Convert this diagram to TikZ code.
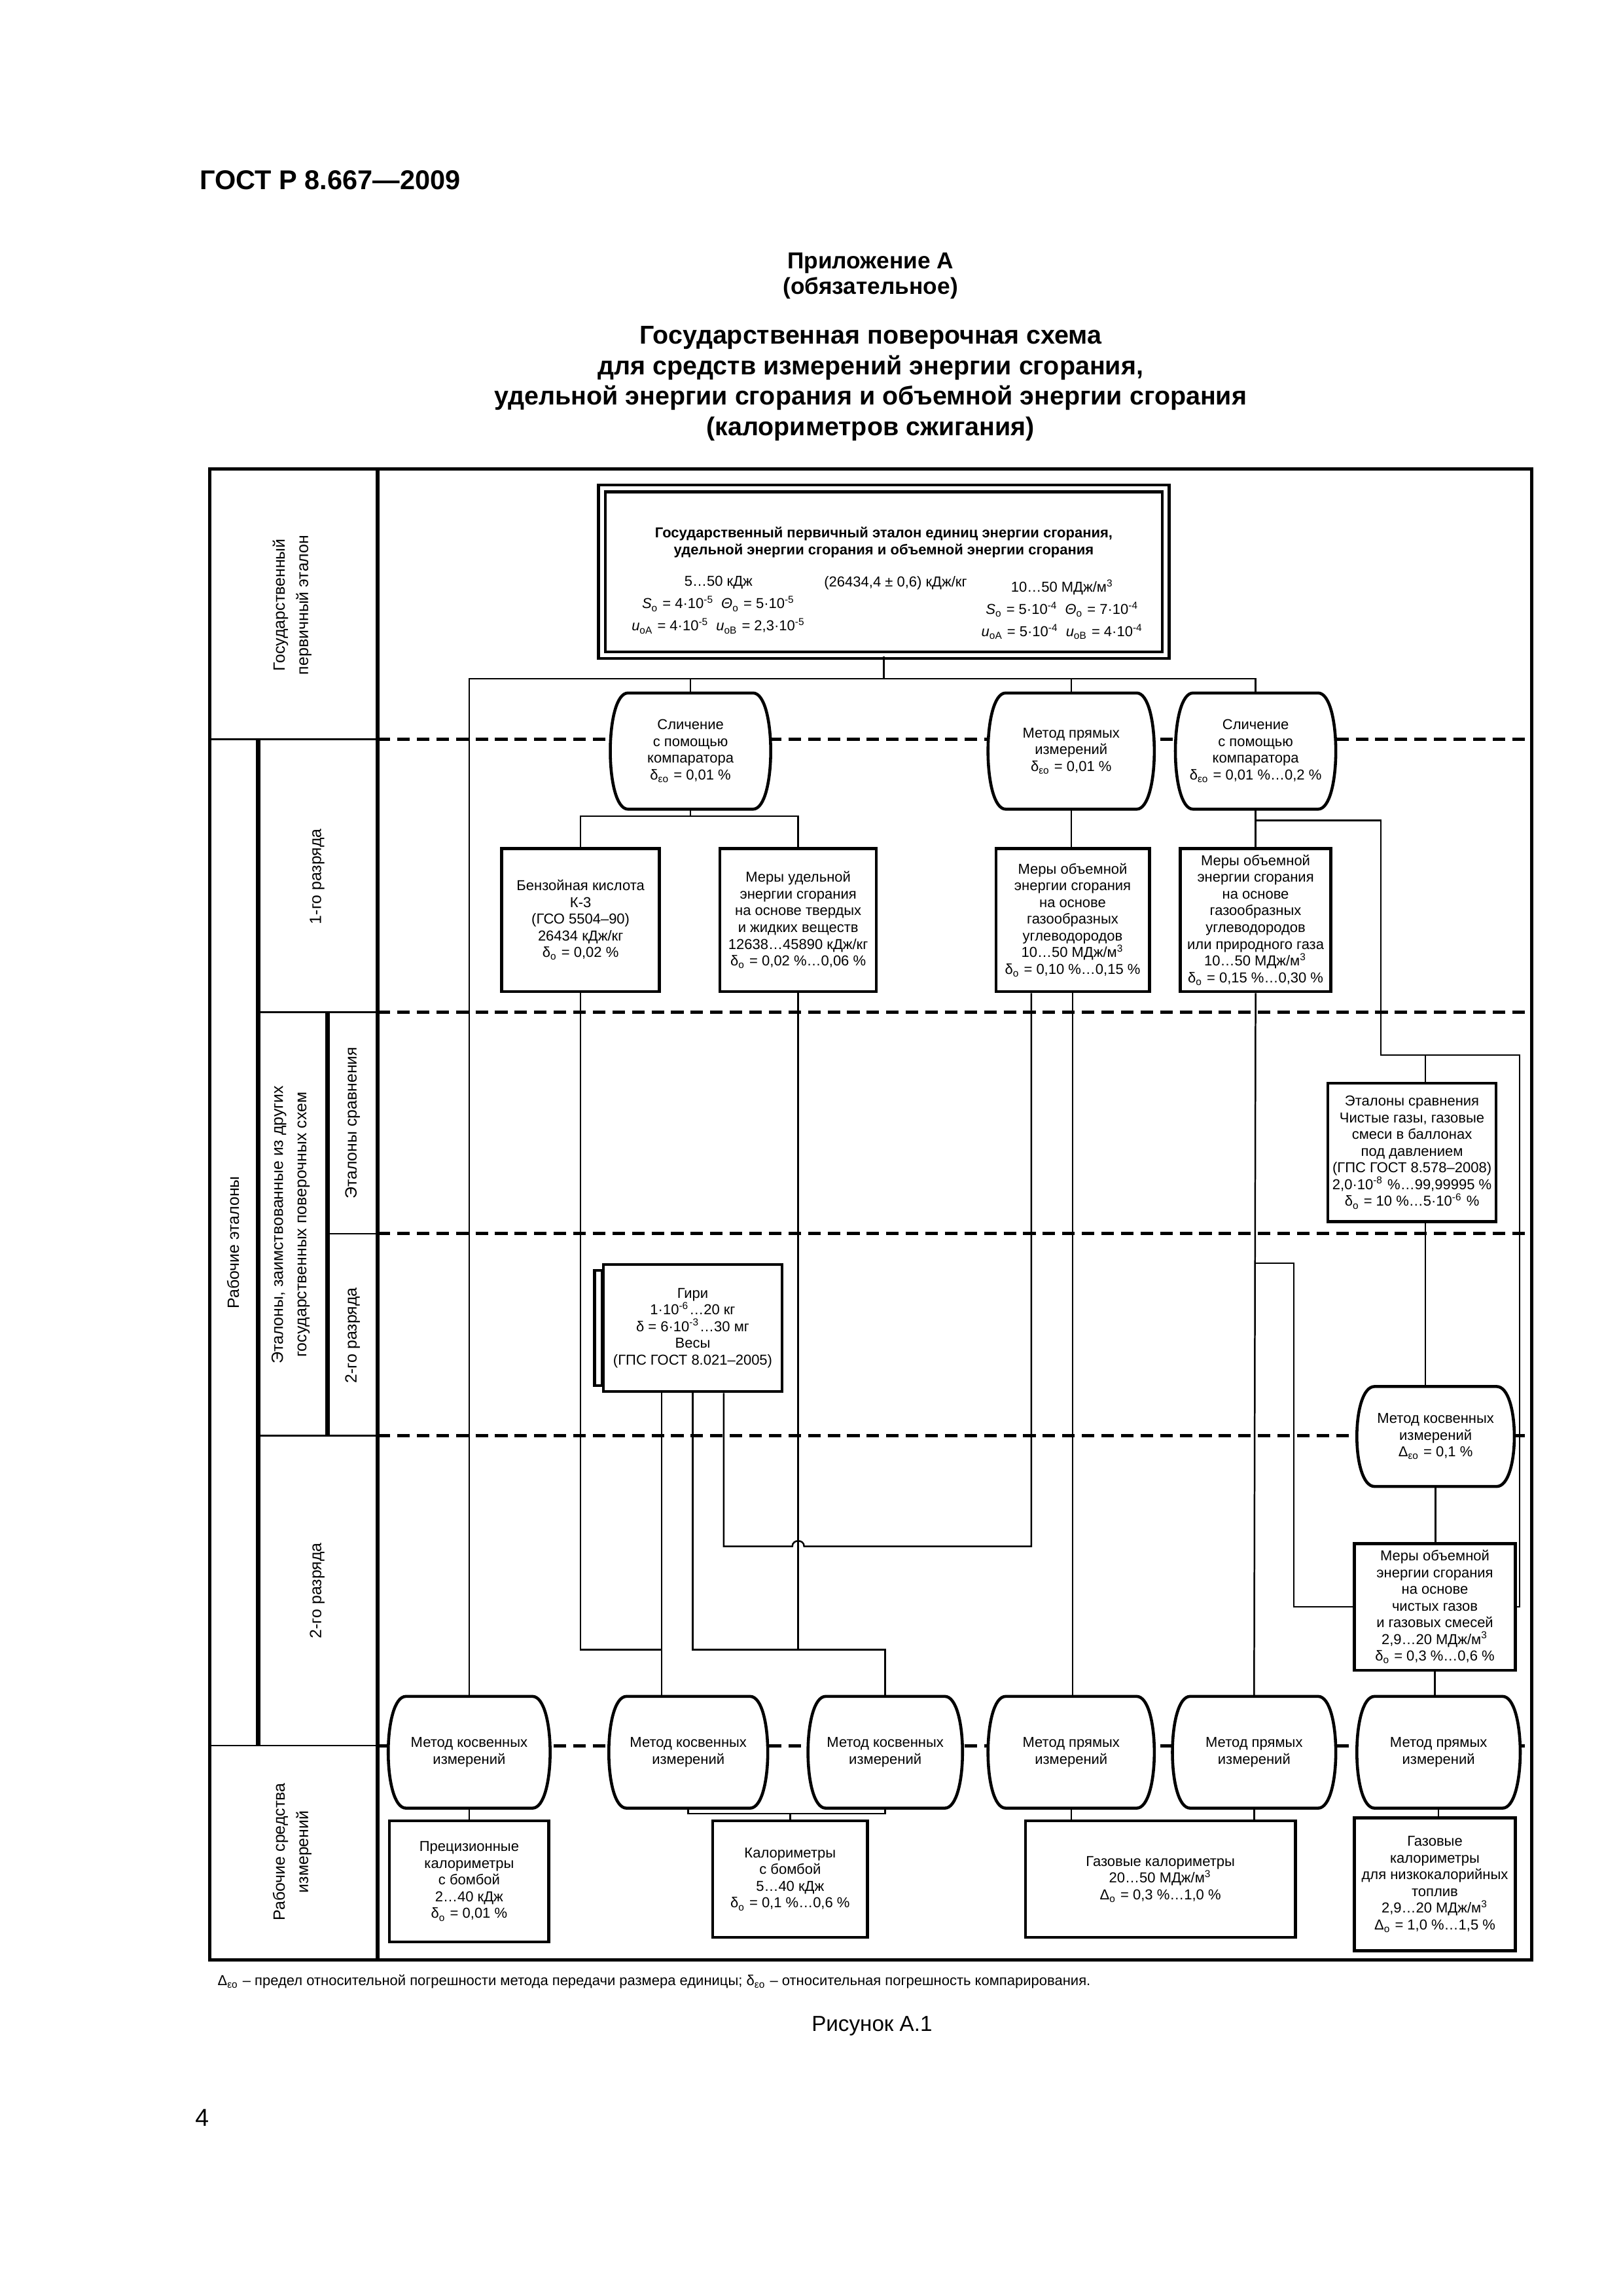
\documentclass[tikz,border=0pt]{standalone}
\usepackage{fontspec}
\setmainfont{Liberation Sans}
\usetikzlibrary{calc}

\newcommand\boxfont{\fontsize{5.3}{6.15}\selectfont}
\newcommand\datafont{\fontsize{5.3}{8.2}\selectfont}
\newcommand\sidefont{\fontsize{6}{8.6}\selectfont}
\newcommand\seo{\textsubscript{εо}}
\newcommand\subo{\textsubscript{о}}
\newcommand\pw[1]{\textsuperscript{#1}}

% outline of a method node: straight top and bottom, bulging sides
\newcommand\barrel[1]{%
  \draw[outline] ($(#1.north west)+(12,0)$) -- ($(#1.north east)+(-12,0)$)
    .. controls ($(#1.north east)+(4,0)$) and ($(#1.south east)+(4,0)$)
    .. ($(#1.south east)+(-12,0)$) -- ($(#1.south west)+(12,0)$)
    .. controls ($(#1.south west)+(-4,0)$) and ($(#1.north west)+(-4,0)$)
    .. cycle;}

\tikzset{
  sized/.style 2 args={minimum width=#1*0.01909cm, minimum height=#2*0.01909cm},
  stdbox/.style={draw, line width=1.1pt, fill=white, align=center,
    font=\boxfont, inner sep=0pt},
  method/.style={fill=white, align=center, font=\boxfont, inner sep=0pt},
  outline/.style={line width=1.1pt},
  link/.style={line width=0.6pt},
  levelline/.style={line width=1.2pt, dash pattern=on 4.6pt off 2.6pt},
  thinrule/.style={line width=0.6pt},
  heavyrule/.style={line width=1.6pt},
  sidelabel/.style={rotate=90, align=center, font=\sidefont},
}

\begin{document}
\begin{tikzpicture}[x=0.01909cm, y=-0.01909cm]
	\useasboundingbox (0,0) rectangle (1100,1556);

	% page head
	\node[font=\bfseries\fontsize{10}{12}\selectfont, anchor=west] (gost) at (129,122) {ГОСТ Р 8.667—2009};
	\node[font=\bfseries\fontsize{8.5}{9.3}\selectfont, align=center] (annex) at (590,187) {Приложение А\\(обязательное)};
	\node[font=\bfseries\fontsize{9.5}{11.2}\selectfont, align=center] (title) at (590,260)
		{Государственная поверочная схема\\для средств измерений энергии сгорания,\\удельной энергии сгорания и объемной энергии сгорания\\(калориметров сжигания)};

	% frame and the column of levels
	\draw[line width=1.2pt] (142,318) rectangle (1038,1328);
	\draw[heavyrule] (256,318) -- (256,1328);
	\draw[heavyrule] (175,501) -- (175,1183);
	\draw[heavyrule] (222,686) -- (222,973);
	\draw[thinrule] (142,501) -- (256,501) (142,1183) -- (256,1183)
		(175,686) -- (256,686) (175,973) -- (256,973) (222,836) -- (256,836);
	\foreach \y in {501,686,836,973,1183}
		\draw[levelline] (256,\y) -- (1038,\y);

	\node[sidelabel] (lvlprim) at (198,410) {Государственный\\первичный эталон};
	\node[sidelabel] (lvlwork) at (158,842) {Рабочие эталоны};
	\node[sidelabel] (lvlfirst) at (215,594) {1-го разряда};
	\node[sidelabel] (lvlborrow) at (197,830) {Эталоны, заимствованные из других\\государственных поверочных схем};
	\node[sidelabel] (lvlcomp) at (239,761) {Эталоны сравнения};
	\node[sidelabel] (lvlsecondb) at (239,905) {2-го разряда};
	\node[sidelabel] (lvlsecond) at (215,1078) {2-го разряда};
	\node[sidelabel] (lvlmeans) at (198,1255) {Рабочие средства\\измерений};

	% state primary standard
	\node[stdbox, sized={382}{113}, double, double distance=1.4pt, line width=1.1pt] (prim) at (599,387.5) {};
	\node[font=\bfseries\boxfont, align=center] (primtitle) at (599,367.5)
		{Государственный первичный эталон единиц энергии сгорания,\\удельной энергии сгорания и объемной энергии сгорания};
	\node[font=\datafont, align=center] (primsolid) at (487,410)
		{5…50 кДж\\\textit{S}\subo{} = 4·10\pw{-5}\enspace\textit{Θ}\subo{} = 5·10\pw{-5}\\\textit{u}\textsubscript{оА} = 4·10\pw{-5}\enspace\textit{u}\textsubscript{оВ} = 2,3·10\pw{-5}};
	\node[font=\datafont] (primvalue) at (607,395) {(26434,4 ± 0,6) кДж/кг};
	\node[font=\datafont, align=center] (primgas) at (720,413)
		{10…50 МДж/м\pw{3}\\\textit{S}\subo{} = 5·10\pw{-4}\enspace\textit{Θ}\subo{} = 7·10\pw{-4}\\\textit{u}\textsubscript{оА} = 5·10\pw{-4}\enspace\textit{u}\textsubscript{оВ} = 4·10\pw{-4}};

	% methods under the primary standard
	\node[method, sized={108}{78}] (cmpA) at (468,509) {Сличение\\с помощью\\компаратора\\δ\seo{} = 0,01 \%};
	\node[method, sized={112}{78}] (dirB) at (726,509) {Метод прямых\\измерений\\δ\seo{} = 0,01 \%};
	\node[method, sized={108}{78}] (cmpC) at (851,509) {Сличение\\с помощью\\компаратора\\δ\seo{} = 0,01 \%…0,2 \%};

	% working standards, 1st grade
	\node[stdbox, sized={107}{97}] (benz) at (393.5,623.5)
		{Бензойная кислота\\К-3\\(ГСО 5504–90)\\26434 кДж/кг\\δ\subo{} = 0,02 \%};
	\node[stdbox, sized={106}{97}] (udel) at (541,623.5)
		{Меры удельной\\энергии сгорания\\на основе твердых\\и жидких веществ\\12638…45890 кДж/кг\\δ\subo{} = 0,02 \%…0,06 \%};
	\node[stdbox, sized={104}{97}] (obA) at (727,623.5)
		{Меры объемной\\энергии сгорания\\на основе\\газообразных\\углеводородов\\10…50 МДж/м\pw{3}\\δ\subo{} = 0,10 \%…0,15 \%};
	\node[stdbox, sized={102}{97}] (obB) at (851,623.5)
		{Меры объемной\\энергии сгорания\\на основе\\газообразных\\углеводородов\\или природного газа\\10…50 МДж/м\pw{3}\\δ\subo{} = 0,15 \%…0,30 \%};

	% borrowed standards
	\node[stdbox, sized={114}{94}] (cmpst) at (957,781)
		{Эталоны сравнения\\Чистые газы, газовые\\смеси в баллонах\\под давлением\\(ГПС ГОСТ 8.578–2008)\\2,0·10\pw{-8} \%…99,99995 \%\\δ\subo{} = 10 \%…5·10\pw{-6} \%};
	\node[stdbox, sized={121}{86}] (giri) at (469.5,900)
		{Гири\\1·10\pw{-6}…20 кг\\δ = 6·10\pw{-3}…30 мг\\Весы\\(ГПС ГОСТ 8.021–2005)};
	\draw[outline] ($(giri.north west)+(-5,5)$) rectangle ($(giri.south west)+(0,-5)$);

	% working standards, 2nd grade
	\node[method, sized={106}{67}] (indD) at (973,973.5) {Метод косвенных\\измерений\\Δ\seo{} = 0,1 \%};
	\node[stdbox, sized={109}{86}] (chist) at (972.5,1089)
		{Меры объемной\\энергии сгорания\\на основе\\чистых газов\\и газовых смесей\\2,9…20 МДж/м\pw{3}\\δ\subo{} = 0,3 \%…0,6 \%};

	% methods for working measuring instruments
	\node[method, sized={109}{75}] (ind1) at (318,1187.5) {Метод косвенных\\измерений};
	\node[method, sized={107}{75}] (ind2) at (466.5,1187.5) {Метод косвенных\\измерений};
	\node[method, sized={104}{75}] (ind3) at (600,1187.5) {Метод косвенных\\измерений};
	\node[method, sized={112}{75}] (dir4) at (726,1187.5) {Метод прямых\\измерений};
	\node[method, sized={110}{75}] (dir5) at (850,1187.5) {Метод прямых\\измерений};
	\node[method, sized={110}{75}] (dir6) at (975,1187.5) {Метод прямых\\измерений};

	% working measuring instruments
	\node[stdbox, sized={108}{82}] (prec) at (318,1275)
		{Прецизионные\\калориметры\\с бомбой\\2…40 кДж\\δ\subo{} = 0,01 \%};
	\node[stdbox, sized={105}{79}] (bomb) at (535.5,1273.5)
		{Калориметры\\с бомбой\\5…40 кДж\\δ\subo{} = 0,1 \%…0,6 \%};
	\node[stdbox, sized={183}{79}] (gascal) at (786.5,1273.5)
		{Газовые калориметры\\20…50 МДж/м\pw{3}\\Δ\subo{} = 0,3 \%…1,0 \%};
	\node[stdbox, sized={109}{90}] (lowcal) at (972.5,1277)
		{Газовые\\калориметры\\для низкокалорийных\\топлив\\2,9…20 МДж/м\pw{3}\\Δ\subo{} = 1,0 \%…1,5 \%};

	\foreach \n in {cmpA,dirB,cmpC,indD,ind1,ind2,ind3,dir4,dir5,dir6}
		\barrel{\n};

	% connectors
	\coordinate (bus) at (599,460);
	\draw[link] (prim.south) -- (bus);
	\foreach \n in {ind1,cmpA,dirB,cmpC}
		\draw[link] (bus) -| (\n.north);

	\coordinate (forkA) at (468,553);
	\draw[link] (cmpA.south) -- (forkA);
	\foreach \n in {benz,udel}
		\draw[link] (forkA) -| (\n.north);
	\draw[link] (dirB.south) -- (dirB.south |- obA.north);
	\draw[link] (cmpC.south) -- (obB.north);

	\coordinate (g1) at ($(giri.south)+(-21,0)$);
	\coordinate (g2) at (giri.south);
	\coordinate (g3) at ($(giri.south)+(21,0)$);
	\coordinate (lowbus) at (0,1118);
	\coordinate (midbus) at (0,1048);
	\coordinate (fa) at ($(obA.south)+(-28,0)$);
	\draw[link] (g1) -- (g1 |- ind2.north);
	\draw[link] (benz.south) |- (g1 |- lowbus);
	\draw[link] (g2) |- (udel.south |- lowbus);
	\draw[link] (udel.south) -- (udel.south |- lowbus) -| (ind3.north);
	\draw[link] (g3) |- ($(udel.south |- midbus)+(-4,0)$)
		.. controls ($(udel.south |- midbus)+(-4,-5)$) and ($(udel.south |- midbus)+(4,-5)$)
		.. ($(udel.south |- midbus)+(4,0)$) -- (fa |- midbus) -- (fa);
	\draw[link] (obA.south) -- (obA.south |- dir4.north);
	\draw[link] (obB.south) -- (dir5.north);

	% right branch: comparison standards and pure gases
	\coordinate (forkC) at (851,556);
	\coordinate (turnC) at (936,556);
	\coordinate (rightrise) at (1030,715);
	\coordinate (cmpin) at ($(cmpst.north)+(9,0)$);
	\coordinate (cmpout) at ($(cmpst.south)+(9,0)$);
	\coordinate (forkG) at (851,856);
	\draw[link] (forkC) -- (turnC) |- (rightrise) |- (chist.east);
	\draw[link] (cmpin) -- (cmpin |- rightrise);
	\draw[link] (cmpout) -- (cmpout |- indD.north);
	\draw[link] (indD.south) -- (indD.south |- chist.north);
	\draw[link] (forkG) -| ($(chist.west)+(-40,0)$) -- (chist.west);
	\draw[link] (chist.south) -- (chist.south |- dir6.north);

	\draw[link] (ind1.south) -- (prec.north);
	\coordinate (bombbus) at (0,1229);
	\draw[link] (ind2.south) |- (ind3.south |- bombbus) -- (ind3.south);
	\draw[link] (bomb.north) -- (bomb.north |- bombbus);
	\draw[link] (dir4.south) -- (dir4.south |- gascal.north);
	\draw[link] (dir5.south) -- (dir5.south |- gascal.north);
	\draw[link] (dir6.south) -- (dir6.south |- lowcal.north);

	% notes
	\node[font=\boxfont, anchor=west] (note) at (141,1343)
		{Δ\seo{} – предел относительной погрешности метода передачи размера единицы; δ\seo{} – относительная погрешность компарирования.};
	\node[font=\fontsize{8}{10}\selectfont] (figname) at (591,1373) {Рисунок А.1};
	\node[font=\fontsize{9}{11}\selectfont] (pageno) at (137,1435) {4};
\end{tikzpicture}
\end{document}
